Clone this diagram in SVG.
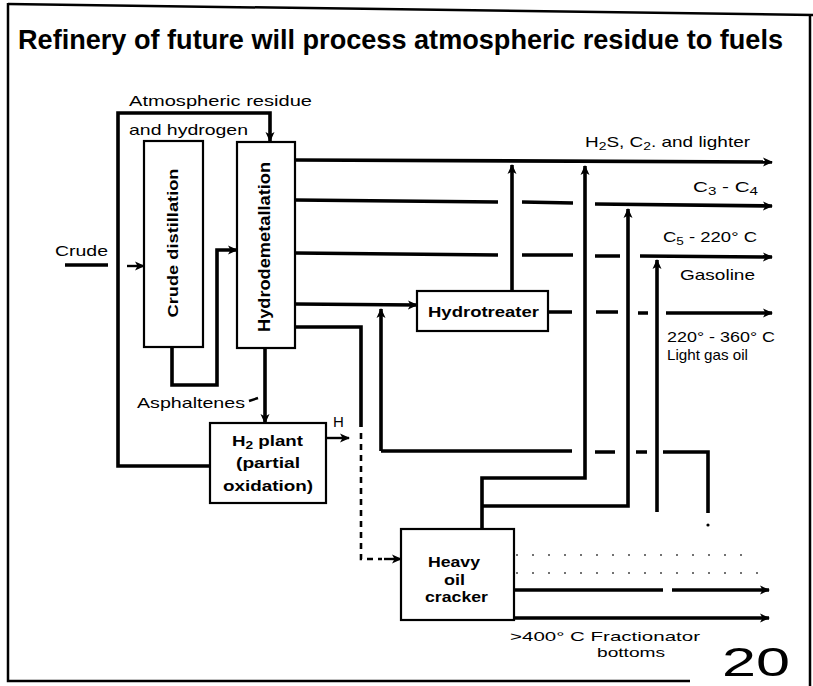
<svg xmlns="http://www.w3.org/2000/svg" width="813" height="686" viewBox="0 0 813 686">
<style>
  .frame{fill:none;stroke:#000;stroke-width:2.5}
  .box{fill:#fff;stroke:#000;stroke-width:2.2}
  .flow{fill:none;stroke:#000;stroke-width:3.6;stroke-linejoin:miter}
  .thin{fill:none;stroke:#000;stroke-width:2.4}
  .dash{fill:none;stroke:#000;stroke-width:2.6;stroke-dasharray:6 5}
  .faint{fill:none;stroke:#444;stroke-width:1.6;stroke-dasharray:2 14}
  .lbl{font-family:"Liberation Sans",Arial,sans-serif;font-size:15px;fill:#000}
  .bx{font-family:"Liberation Sans",Arial,sans-serif;font-size:15px;font-weight:bold;fill:#000}
  .title{font-family:"Liberation Sans",Arial,sans-serif;font-size:28px;font-weight:bold;fill:#000}
</style>
<defs>
  <marker id="ah" viewBox="0 0 10 10" refX="9" refY="5" markerWidth="10" markerHeight="10" markerUnits="userSpaceOnUse" orient="auto">
    <path d="M0,0.5 L10,5 L0,9.5 L2.5,5 z" fill="#000"/>
  </marker>
</defs>
<rect width="813" height="686" fill="#fff"/>

<g id="frame">
  <path class="frame" d="M8,4 L813,15"/>
  <path class="frame" d="M8,3 V681 H690"/>
  <path class="frame" d="M810,15 V686"/>
</g>

<text class="title" x="18" y="49" textLength="765" lengthAdjust="spacingAndGlyphs">Refinery of future will process atmospheric residue to fuels</text>

<g id="connectors">
  <path class="flow" d="M210,466 H118 V113 H270 V141" marker-end="url(#ah)"/>
  <path class="flow" d="M65,265 H108"/>
  <path class="thin" d="M127,266 H144" marker-end="url(#ah)"/>
  <path class="flow" d="M172,347 V385 H217 V250 H237" marker-end="url(#ah)"/>
  <path class="flow" d="M265,348 V423" marker-end="url(#ah)"/>
  <path class="thin" d="M249,401 L258,398"/>
  <path class="flow" d="M295,160 L772,162" marker-end="url(#ah)"/>
  <path class="flow" d="M295,200 L498,202 M522,202 L573,203"/>
  <path class="flow" d="M595,204 L772,206" marker-end="url(#ah)"/>
  <path class="flow" d="M295,253 L498,255 M522,255 L573,255 M595,256 L620,256"/>
  <path class="flow" d="M640,256 L772,257" marker-end="url(#ah)"/>
  <path class="flow" d="M295,304 L417,305" marker-end="url(#ah)"/>
  <path class="flow" d="M295,327 H361 V427"/>
  <path class="dash" d="M361,433 V559 H382"/>
  <path class="thin" d="M384,559 H401" marker-end="url(#ah)"/>
  <path class="flow" d="M512,291 V165" marker-end="url(#ah)"/>
  <path class="flow" d="M548,312 H572 M596,312 H618 M638,313 H648"/>
  <path class="flow" d="M666,313 H772" marker-end="url(#ah)"/>
  <path class="flow" d="M482,529 V478 H585 V166" marker-end="url(#ah)"/>
  <path class="flow" d="M482,506 H628 V209" marker-end="url(#ah)"/>
  <path class="flow" d="M657,512 V260" marker-end="url(#ah)"/>
  <path class="thin" d="M326,438 H349" marker-end="url(#ah)"/>
  <path class="flow" d="M381,451 V309" marker-end="url(#ah)"/>
  <path class="flow" d="M381,451 H572 M595,452 H615 M636,452 H647 M663,452 H708 V513"/>
  <circle cx="708" cy="525" r="1.6" fill="#000"/>
  <path class="faint" d="M516,555 H750"/>
  <path class="faint" d="M516,573 H765"/>
  <path class="flow" d="M514,590 H663"/>
  <path class="flow" d="M672,590 H769" marker-end="url(#ah)"/>
  <path class="flow" d="M514,618 H769" marker-end="url(#ah)"/>
</g>

<g id="crude-distillation">
  <rect class="box" x="144" y="141" width="59" height="206"/>
  <text class="bx" transform="translate(178,243) rotate(-90)" text-anchor="middle" textLength="149" lengthAdjust="spacingAndGlyphs">Crude distillation</text>
</g>

<g id="hydrodemetallation">
  <rect class="box" x="237" y="142" width="58" height="206"/>
  <text class="bx" style="font-size:16px" transform="translate(270,247) rotate(-90)" text-anchor="middle" textLength="170" lengthAdjust="spacingAndGlyphs">Hydrodemetallation</text>
</g>

<g id="hydrotreater">
  <rect class="box" x="417" y="291" width="131" height="40"/>
  <text class="bx" x="428" y="317" textLength="111" lengthAdjust="spacingAndGlyphs">Hydrotreater</text>
</g>

<g id="h2-plant">
  <rect class="box" x="210" y="423" width="116" height="80"/>
  <text class="bx" x="232" y="446" textLength="71" lengthAdjust="spacingAndGlyphs">H<tspan font-size="11" dy="3">2</tspan><tspan dy="-3"> plant</tspan></text>
  <text class="bx" x="236" y="468" textLength="64" lengthAdjust="spacingAndGlyphs">(partial</text>
  <text class="bx" x="223" y="491" textLength="90" lengthAdjust="spacingAndGlyphs">oxidation)</text>
</g>

<g id="heavy-oil-cracker">
  <rect class="box" x="401" y="529" width="113" height="91"/>
  <text class="bx" x="428" y="567" textLength="52" lengthAdjust="spacingAndGlyphs">Heavy</text>
  <text class="bx" x="444" y="585" textLength="21" lengthAdjust="spacingAndGlyphs">oil</text>
  <text class="bx" x="425" y="602" textLength="63" lengthAdjust="spacingAndGlyphs">cracker</text>
</g>

<g id="labels">
  <text class="lbl" x="129" y="106" textLength="183" lengthAdjust="spacingAndGlyphs">Atmospheric residue</text>
  <text class="lbl" x="129" y="135" textLength="119" lengthAdjust="spacingAndGlyphs">and hydrogen</text>
  <text class="lbl" x="55" y="256" textLength="53" lengthAdjust="spacingAndGlyphs">Crude</text>
  <text class="lbl" x="137" y="408" textLength="108" lengthAdjust="spacingAndGlyphs">Asphaltenes</text>
  <text class="lbl" x="333" y="427">H</text>
  <text class="lbl" x="585" y="147" textLength="165" lengthAdjust="spacingAndGlyphs">H<tspan font-size="11" dy="3">2</tspan><tspan dy="-3">S, C</tspan><tspan font-size="11" dy="3">2</tspan><tspan dy="-3">. and lighter</tspan></text>
  <text class="lbl" x="693" y="192" textLength="65" lengthAdjust="spacingAndGlyphs">C<tspan font-size="11" dy="3">3</tspan><tspan dy="-3"> - C</tspan><tspan font-size="11" dy="3">4</tspan></text>
  <text class="lbl" x="663" y="242" textLength="94" lengthAdjust="spacingAndGlyphs">C<tspan font-size="11" dy="3">5</tspan><tspan dy="-3"> - 220° C</tspan></text>
  <text class="lbl" x="680" y="280" textLength="75" lengthAdjust="spacingAndGlyphs">Gasoline</text>
  <text class="lbl" x="667" y="342" textLength="108" lengthAdjust="spacingAndGlyphs">220° - 360° C</text>
  <text class="lbl" x="667" y="360" textLength="81" lengthAdjust="spacingAndGlyphs">Light gas oil</text>
  <text class="lbl" style="font-size:13.5px" x="510" y="641" textLength="190" lengthAdjust="spacingAndGlyphs">&gt;400° C  Fractionator</text>
  <text class="lbl" style="font-size:13.5px" x="597" y="657" textLength="68" lengthAdjust="spacingAndGlyphs">bottoms</text>
  <text x="722" y="676" font-family="'Liberation Sans',Arial,sans-serif" font-size="40" textLength="68" lengthAdjust="spacingAndGlyphs">20</text>
</g>
</svg>
